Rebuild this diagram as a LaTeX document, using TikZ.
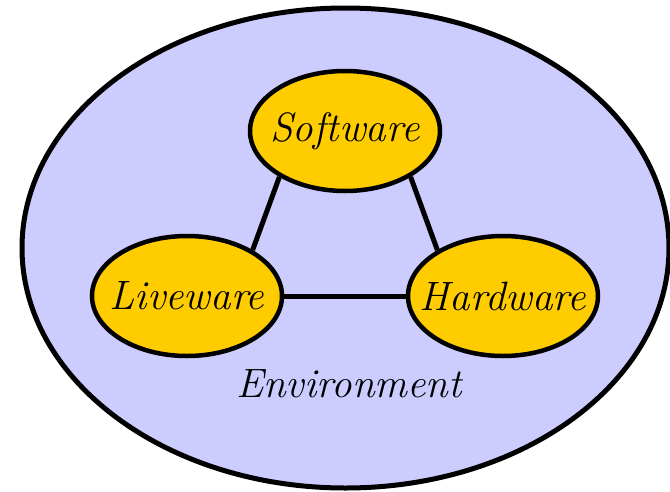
\documentclass[tikz,border=0pt]{standalone}
\usepackage{fontspec}
\usetikzlibrary{shapes.geometric}
\colorlet{mylavender}{rgb,255:red,204;green,204;blue,255}
\colorlet{mygold}{rgb,255:red,255;green,204;blue,0}
\tikzset{
  part/.style={ellipse, draw, line width=4.5pt, fill=mygold,
    minimum width=190pt, minimum height=120pt, inner sep=0pt},
  partlabel/.style={font=\fontsize{41}{46}\selectfont\itshape},
  link/.style={line width=5pt}
}
\begin{document}
\begin{tikzpicture}[x=1pt,y=1pt]
    \useasboundingbox (0,0) rectangle (670,-491);

    % environment
    \draw[line width=5pt, fill=mylavender] (345.5,-248) ellipse (323.5 and 240);
    \node[partlabel] (env) at (349,-384) {Environment};

    \node[part, label={[partlabel]center:Software}] (sw) at (345,-131) {};
    \node[part, label={[partlabel]center:Liveware}] (lw) at (187,-296) {};
    \node[part, label={[partlabel]center:Hardware}] (hw) at (503,-296) {};

    \draw[link] (sw.215) -- (lw.35);
    \draw[link] (sw.-35) -- (hw.145);
    \draw[link] (lw.east) -- (hw.west);
\end{tikzpicture}
\end{document}
